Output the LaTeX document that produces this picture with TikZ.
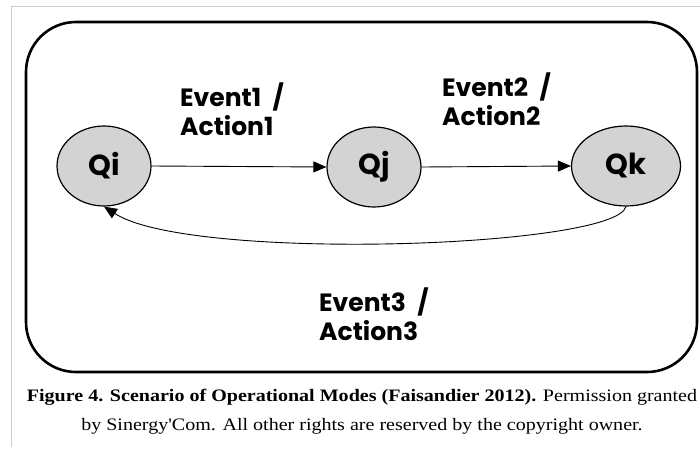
\documentclass[tikz,border=0pt]{standalone}
\usepackage{fontspec}
\setmainfont{Liberation Serif}
\newfontfamily\gothic{Poppins}
\newfontfamily\capfont{Liberation Serif}[FakeStretch=1.145, Ligatures=TeXOff]
\usepackage{tikz}
\usetikzlibrary{shapes.geometric, positioning, arrows.meta}
\definecolor{ModeGray}{RGB}{211,211,211}
\definecolor{FrameGray}{RGB}{204,204,204}

\begin{document}
\begin{tikzpicture}[x=1pt, y=-1pt,
          mode/.style={ellipse, draw=black, line width=1.2pt, fill=ModeGray,
                       minimum width=94pt, minimum height=80pt, inner sep=0pt,
                       font=\gothic\bfseries\fontsize{29}{34}\selectfont},
          lbl/.style={align=left, inner sep=0pt,
                      font=\gothic\bfseries\fontsize{25}{29.5}\selectfont},
          arr/.style={-{Triangle[length=13pt, width=11pt]}, draw=black, line width=0.9pt}
        ]
        \useasboundingbox (0,0) rectangle (700,450);
        % page frame
        \draw[FrameGray, line width=1pt] (700,6) -- (11,6) -- (11,447);
        % outer box
        \draw[line width=2.6pt, rounded corners=50pt] (26,22) rectangle (697,372);

        % Modes
        \node[mode] (qi) at (104,166) {Qi};
        \node[mode] (qj) at (374,167) {Qj};
        \node[mode, minimum width=109pt] (qk) at (626,166) {Qk};

        % Transitions
        \draw[arr] (qi.east) -- (qj.west);
        \draw[arr] (qj.east) -- (qk.west);
        \draw[arr] (qk.south) .. controls (615,248) and (190,262) .. (qi.south);

        % Labels
        \node[lbl, anchor=west] (ev1) at (180,109) {Event1\hspace{0.25em} /\\Action1};
        \node[lbl, anchor=west] (ev2) at (442,99) {Event2\hspace{0.25em} /\\Action2};
        \node[lbl, anchor=west] (ev3) at (319,314) {Event3\hspace{0.25em} /\\Action3};

        % Caption
        \node[font=\capfont\fontsize{17.5}{29}\selectfont, align=center, inner sep=0pt]
              (cap) at (362,412) {\textbf{Figure 4. Scenario of Operational Modes (Faisandier 2012).} Permission granted\\
              by Sinergy'Com. All other rights are reserved by the copyright owner.};
\end{tikzpicture}
\end{document}
